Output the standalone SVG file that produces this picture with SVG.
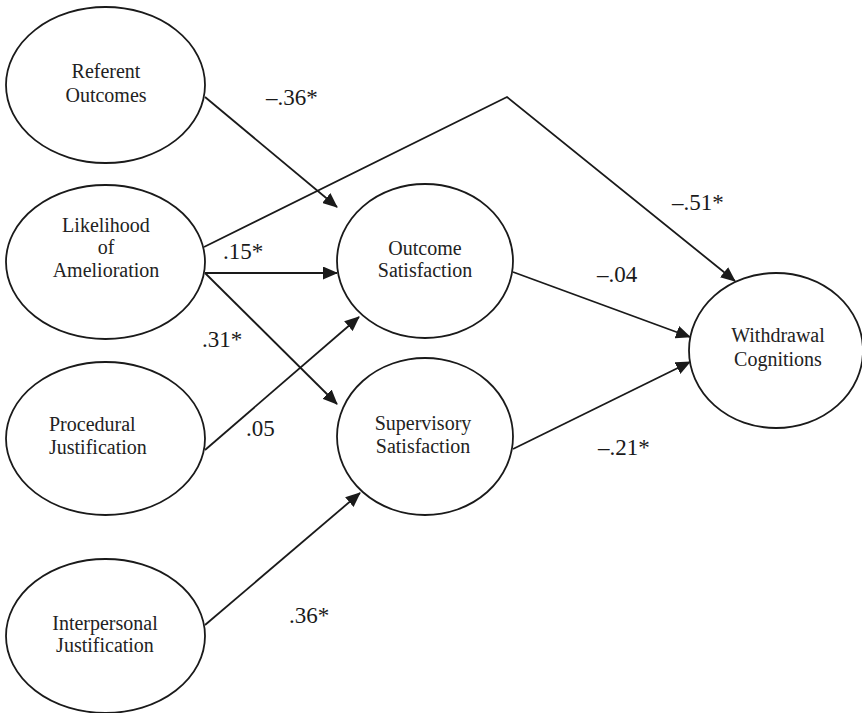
<svg xmlns="http://www.w3.org/2000/svg" width="862" height="713" viewBox="0 0 862 713">
<defs>
<style>
.node ellipse{fill:#fff;stroke:#1a1a1a;stroke-width:1.8}
.node text{font-size:20px;fill:#222;text-anchor:middle}
.edge{fill:none;stroke:#1a1a1a;stroke-width:1.8;marker-end:url(#arr)}
.lbl{font-size:23px;fill:#1a1a1a}
</style>
<marker id="arr" markerUnits="userSpaceOnUse" markerWidth="15" markerHeight="13" refX="14" refY="6.5" orient="auto">
<path d="M0,0 L15,6.5 L0,13 z" fill="#1a1a1a"/>
</marker>
</defs>
<rect width="862" height="713" fill="#fff"/>
<g id="connectors">
<path class="edge" d="M205,97 L337,207"/>
<path class="edge" d="M204,247 L507,97 L735,281"/>
<path class="edge" d="M205,273 L337,273"/>
<path class="edge" d="M205,273 L337,404"/>
<path class="edge" d="M205,450 L359,317"/>
<path class="edge" d="M205,625 L360,493"/>
<path class="edge" d="M513,272 L690,337"/>
<path class="edge" d="M513,449 L690,362"/>
</g>
<g id="labels" font-family="Liberation Serif, Times New Roman, DejaVu Serif, serif">
<text class="lbl" x="266" y="105">–.36*</text>
<text class="lbl" x="672" y="210">–.51*</text>
<text class="lbl" x="223" y="259">.15*</text>
<text class="lbl" x="597" y="282">–.04</text>
<text class="lbl" x="202" y="347">.31*</text>
<text class="lbl" x="246" y="436">.05</text>
<text class="lbl" x="598" y="455">–.21*</text>
<text class="lbl" x="289" y="623">.36*</text>
</g>
<g id="referent" class="node" font-family="Liberation Serif, Times New Roman, DejaVu Serif, serif">
<ellipse cx="105.5" cy="85" rx="99.5" ry="78"/>
<text x="106" y="78">Referent</text>
<text x="106" y="102">Outcomes</text>
</g>
<g id="likelihood" class="node" font-family="Liberation Serif, Times New Roman, DejaVu Serif, serif">
<ellipse cx="105.5" cy="262" rx="99.5" ry="77"/>
<text x="106" y="232">Likelihood</text>
<text x="106" y="254">of</text>
<text x="106" y="277">Amelioration</text>
</g>
<g id="procedural" class="node" font-family="Liberation Serif, Times New Roman, DejaVu Serif, serif">
<ellipse cx="105.5" cy="438.5" rx="99.5" ry="76.5"/>
<text x="49" y="431" style="text-anchor:start">Procedural</text>
<text x="49" y="454" style="text-anchor:start">Justification</text>
</g>
<g id="interpersonal" class="node" font-family="Liberation Serif, Times New Roman, DejaVu Serif, serif">
<ellipse cx="105.5" cy="636" rx="99.5" ry="77"/>
<text x="105" y="630">Interpersonal</text>
<text x="105" y="652">Justification</text>
</g>
<g id="outcome" class="node" font-family="Liberation Serif, Times New Roman, DejaVu Serif, serif">
<ellipse cx="425" cy="261" rx="88" ry="77"/>
<text x="425" y="255">Outcome</text>
<text x="425" y="277">Satisfaction</text>
</g>
<g id="supervisory" class="node" font-family="Liberation Serif, Times New Roman, DejaVu Serif, serif">
<ellipse cx="425" cy="436.5" rx="88" ry="78.5"/>
<text x="423" y="430">Supervisory</text>
<text x="423" y="453">Satisfaction</text>
</g>
<g id="withdrawal" class="node" font-family="Liberation Serif, Times New Roman, DejaVu Serif, serif">
<ellipse cx="776" cy="350.5" rx="87" ry="77.5"/>
<text x="778" y="342">Withdrawal</text>
<text x="778" y="366">Cognitions</text>
</g>
</svg>
